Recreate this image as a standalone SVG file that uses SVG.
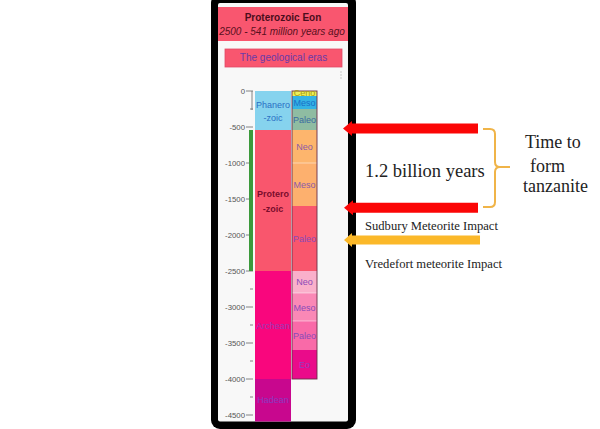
<svg xmlns="http://www.w3.org/2000/svg" width="600" height="429" viewBox="0 0 600 429">
<style>
.ax{font-family:"Liberation Sans",Arial,sans-serif;font-size:7.8px;fill:#555;text-anchor:end}
.lb{font-family:"Liberation Sans",Arial,sans-serif;font-size:9px;text-anchor:middle}
.sr{font-family:"Liberation Serif","Times New Roman",serif;fill:#222}
.tk{stroke:#666;stroke-width:0.8}
</style>
<rect width="600" height="429" fill="#ffffff"/>
<g id="frame">
<rect x="211" y="-6" width="145" height="435" rx="9" fill="#000"/>
<rect x="218" y="3" width="130" height="418.5" rx="2" fill="#f8f8f8"/>
</g>
<g id="header">
<rect x="218" y="7" width="130" height="34" fill="#f9566f"/>
<text x="283" y="21" text-anchor="middle" font-family="Liberation Sans,Arial,sans-serif" font-size="10" font-weight="bold" fill="#4a0d1c">Proterozoic Eon</text>
<text x="282" y="35" text-anchor="middle" font-family="Liberation Sans,Arial,sans-serif" font-size="10" font-style="italic" fill="#5a1020">2500 - 541 million years ago</text>
</g>
<g id="button">
<rect x="225" y="49" width="117" height="18" fill="#f9566f" stroke="#e04a66" stroke-width="0.8"/>
<text x="283.5" y="61" text-anchor="middle" font-family="Liberation Sans,Arial,sans-serif" font-size="10" fill="#6a3aa8">The geological eras</text>
<circle cx="341" cy="72" r="0.7" fill="#bbb"/><circle cx="341" cy="75" r="0.7" fill="#bbb"/><circle cx="341" cy="78" r="0.7" fill="#bbb"/>
</g>
<g id="axis">
<line x1="252" y1="91" x2="252" y2="110" class="tk"/>
<g class="tk">
<line x1="246" y1="91" x2="253" y2="91"/><line x1="250" y1="109" x2="253" y2="109"/>
<line x1="246" y1="127" x2="253" y2="127"/><line x1="250" y1="145" x2="253" y2="145"/>
<line x1="246" y1="163" x2="253" y2="163"/><line x1="250" y1="181" x2="253" y2="181"/>
<line x1="246" y1="199" x2="253" y2="199"/><line x1="250" y1="217" x2="253" y2="217"/>
<line x1="246" y1="235" x2="253" y2="235"/><line x1="250" y1="253" x2="253" y2="253"/>
<line x1="246" y1="271" x2="253" y2="271"/><line x1="250" y1="289" x2="253" y2="289"/>
<line x1="246" y1="307" x2="253" y2="307"/><line x1="250" y1="325" x2="253" y2="325"/>
<line x1="246" y1="343" x2="253" y2="343"/><line x1="250" y1="361" x2="253" y2="361"/>
<line x1="246" y1="379" x2="253" y2="379"/><line x1="250" y1="397" x2="253" y2="397"/>
<line x1="246" y1="415" x2="253" y2="415"/>
</g>
<text class="ax" x="245" y="93.5">0</text>
<text class="ax" x="245" y="129.5">-500</text>
<text class="ax" x="245" y="165.5">-1000</text>
<text class="ax" x="245" y="201.5">-1500</text>
<text class="ax" x="245" y="237.5">-2000</text>
<text class="ax" x="245" y="273.5">-2500</text>
<text class="ax" x="245" y="309.5">-3000</text>
<text class="ax" x="245" y="345.5">-3500</text>
<text class="ax" x="245" y="381.5">-4000</text>
<text class="ax" x="245" y="417.5">-4500</text>
<rect x="249" y="130" width="4" height="141" fill="#3c9a3c"/>
</g>
<g id="eons">
<rect x="255" y="91" width="36" height="39" fill="#86d3ee"/>
<rect x="255" y="130" width="36" height="141" fill="#f9566d"/>
<rect x="255" y="271" width="36" height="108" fill="#f9067d"/>
<rect x="255" y="379" width="36" height="42.5" fill="#c8078e"/>
<text class="lb" x="273" y="108" fill="#2a6fc4">Phanero</text>
<text class="lb" x="273" y="121" fill="#2a6fc4">-zoic</text>
<text class="lb" x="273" y="197" fill="#7a0c2c" font-weight="bold">Protero</text>
<text class="lb" x="273" y="212" fill="#7a0c2c" font-weight="bold">-zoic</text>
<text class="lb" x="273" y="329" fill="#9a3ab8">Archean</text>
<text class="lb" x="273" y="403" fill="#8a3ac0">Hadean</text>
</g>
<g id="eras">
<rect x="292" y="91" width="25" height="5" fill="#eef25a"/>
<rect x="292" y="96" width="25" height="13" fill="#34b3e4"/>
<rect x="292" y="109" width="25" height="21" fill="#8fbca2"/>
<rect x="292" y="130" width="25" height="33" fill="#fdb56d"/>
<rect x="292" y="163" width="25" height="43" fill="#fdb06e"/>
<rect x="292" y="206" width="25" height="65" fill="#f9566d"/>
<rect x="292" y="271" width="25" height="22" fill="#fab0cb"/>
<rect x="292" y="293" width="25" height="28" fill="#fa88b6"/>
<rect x="292" y="321" width="25" height="29" fill="#f96aa8"/>
<rect x="292" y="350" width="25" height="29" fill="#ea0b8a"/>
<g stroke="#ffffff" stroke-opacity="0.6" stroke-width="0.8">
<line x1="292" y1="163" x2="317" y2="163"/><line x1="292" y1="293" x2="317" y2="293"/><line x1="292" y1="321" x2="317" y2="321"/>
</g>
<rect x="292" y="91" width="25" height="288" fill="none" stroke="#6a2f48" stroke-width="0.9"/>
<text class="lb" x="304.5" y="96" fill="#a89a10">Ceno</text>
<text class="lb" x="304.5" y="106" fill="#1a6fc8">Meso</text>
<text class="lb" x="304.5" y="123" fill="#3a6aa0">Paleo</text>
<text class="lb" x="304.5" y="150" fill="#8a5aa8">Neo</text>
<text class="lb" x="304.5" y="188" fill="#8a5aa8">Meso</text>
<text class="lb" x="304.5" y="242" fill="#8a4ab8">Paleo</text>
<text class="lb" x="304.5" y="285" fill="#8a4ab8">Neo</text>
<text class="lb" x="304.5" y="311" fill="#8a4ab8">Meso</text>
<text class="lb" x="304.5" y="339" fill="#8a4ab8">Paleo</text>
<text class="lb" x="304.5" y="368" fill="#9a3ac0">Eo</text>
</g>
<g id="connectors">
<polygon points="343,128.5 352,121 352,123.5 478,123.5 478,133.5 352,133.5 352,136" fill="#fb0606"/>
<polygon points="344,207.7 353,200.2 353,202.7 478,202.7 478,212.7 353,212.7 353,215.2" fill="#fb0606"/>
<polygon points="344,240 352,233 352,235.5 480,235.5 480,244.5 352,244.5 352,247" fill="#fbb829"/>
<path d="M483,129 H490 Q495,129 495,134 V162 Q495,167 500,167 H510 M500,167 Q495,167 495,172 V202 Q495,207 490,207 H483" fill="none" stroke="#f0b448" stroke-width="2"/>
</g>
<g id="labels">
<text class="sr" x="365" y="177" font-size="18.5">1.2 billion  years</text>
<text class="sr" x="525" y="148" font-size="18">Time to</text>
<text class="sr" x="530" y="172" font-size="18">form</text>
<text class="sr" x="523" y="192" font-size="18">tanzanite</text>
<text class="sr" x="365" y="230" font-size="12.6" fill="#333">Sudbury Meteorite  Impact</text>
<text class="sr" x="365" y="268" font-size="12.6" fill="#333">Vredefort meteorite Impact</text>
</g>
</svg>
